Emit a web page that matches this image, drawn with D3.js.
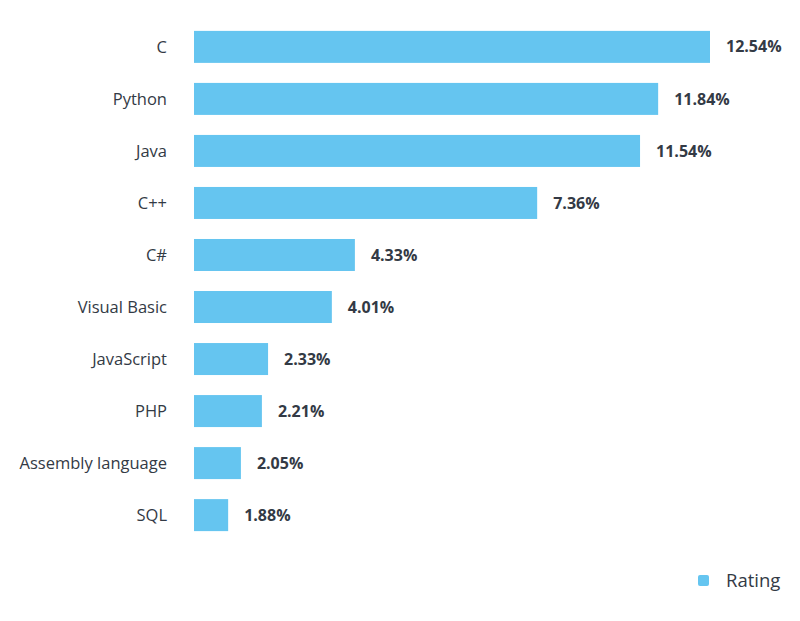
<!DOCTYPE html>
<html>
<head>
<meta charset="utf-8">
<script src="https://cdn.jsdelivr.net/npm/d3@7"></script>
<style>
  body { margin: 0; background: #fff; }
  svg { display: block; font-family: "Open Sans", sans-serif; }
</style>
</head>
<body>
<svg id="chart" width="800" height="621"></svg>
<script>
const languages = ["C", "Python", "Java", "C++", "C#", "Visual Basic", "JavaScript", "PHP", "Assembly language", "SQL"];
// rating labels as printed on the chart
const ratings = [12.54, 11.84, 11.54, 7.36, 4.33, 4.01, 2.33, 2.21, 2.05, 1.88];
// bar lengths as drawn in the picture (same unit as the rating axis)
const barValues = [12.54, 11.28, 10.84, 8.34, 3.91, 3.35, 1.80, 1.65, 1.14, 0.83];
const seriesName = "Rating";

const barColor = "#65c5f0";
const textColor = "#333a45";

const svg = d3.select("#chart");

const x = d3.scaleLinear()
    .domain([0, d3.max(barValues)])
    .range([194, 710]);

const y = d3.scaleBand()
    .domain(languages)
    .range([21, 541])
    .paddingInner(0.385)
    .paddingOuter(0.19);

// category labels
svg.append("g")
  .selectAll("text")
  .data(languages)
  .enter().append("text")
    .attr("x", 167)
    .attr("y", d => y(d) + y.bandwidth() / 2)
    .attr("dy", "0.35em")
    .attr("text-anchor", "end")
    .attr("font-size", 16.5)
    .attr("fill", textColor)
    .text(d => d);

// bars
svg.append("g")
  .selectAll("rect")
  .data(languages)
  .enter().append("rect")
    .attr("x", x(0))
    .attr("y", d => y(d))
    .attr("width", (d, i) => x(barValues[i]) - x(0))
    .attr("height", y.bandwidth())
    .attr("fill", barColor);

// value labels
svg.append("g")
  .selectAll("text")
  .data(languages)
  .enter().append("text")
    .attr("x", (d, i) => x(barValues[i]) + 16)
    .attr("y", d => y(d) + y.bandwidth() / 2)
    .attr("dy", "0.35em")
    .attr("font-size", 16)
    .attr("font-weight", "bold")
    .attr("fill", textColor)
    .text((d, i) => ratings[i].toFixed(2) + "%");

// legend
const legend = svg.append("g").attr("transform", "translate(698,575)");
legend.append("rect")
    .attr("width", 11)
    .attr("height", 11)
    .attr("rx", 2)
    .attr("fill", barColor);
legend.append("text")
    .attr("x", 28)
    .attr("y", 5.5)
    .attr("dy", "0.35em")
    .attr("font-size", 18.5)
    .attr("fill", textColor)
    .text(seriesName);
</script>
</body>
</html>
